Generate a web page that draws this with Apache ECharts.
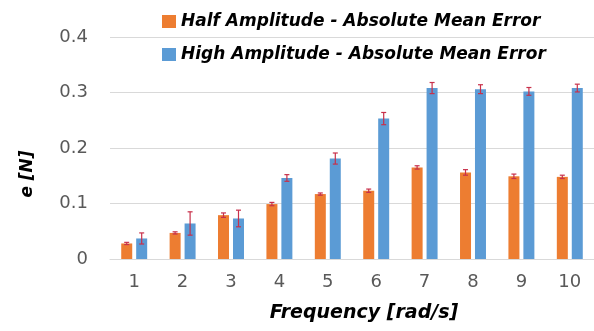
<!DOCTYPE html>
<html>
<head>
<meta charset="utf-8">
<script src="https://cdn.jsdelivr.net/npm/echarts@6/dist/echarts.min.js"></script>
<style>
  html, body { margin: 0; padding: 0; background: #fff; }
  #chart { width: 594px; height: 331px; }
</style>
</head>
<body>
<div id="chart"></div>
<script>
var categories = ["1", "2", "3", "4", "5", "6", "7", "8", "9", "10"]
var halfMean = [0.028, 0.047, 0.079, 0.099, 0.117, 0.123, 0.165, 0.156, 0.149, 0.148]
var halfErr = [0.002, 0.002, 0.004, 0.003, 0.002, 0.003, 0.003, 0.005, 0.004, 0.003]
var highMean = [0.037, 0.064, 0.073, 0.146, 0.181, 0.253, 0.308, 0.306, 0.302, 0.308]
var highErr = [0.010, 0.021, 0.015, 0.006, 0.010, 0.011, 0.010, 0.008, 0.007, 0.007]
var yTicks = [0, 0.1, 0.2, 0.3, 0.4]

// picture text is wide, DejaVu matches its size best
var font = "DejaVu Sans"
var barW = 11
var shift = 7.5 // half of bar + half gap, px

function errData(mean, err) {
	return mean.map(function(v, i) {
		return [i, v - err[i], v + err[i]]
	})
}

function errSeries(name, data, dx) {
	return {
		name: name,
		type: "custom",
		z: 10,
		silent: true,
		renderItem: function(params, api) {
			var lo = api.coord([api.value(0), api.value(1)])
			var hi = api.coord([api.value(0), api.value(2)])
			var x = lo[0] + dx
			var cap = 2.5
			var st = { stroke: "#c8304a", lineWidth: 1.2 }
			return {
				type: "group",
				children: [
					{ type: "line", shape: { x1: x, y1: lo[1], x2: x, y2: hi[1] }, style: st },
					{ type: "line", shape: { x1: x - cap, y1: lo[1], x2: x + cap, y2: lo[1] }, style: st },
					{ type: "line", shape: { x1: x - cap, y1: hi[1], x2: x + cap, y2: hi[1] }, style: st }
				]
			}
		},
		data: data
	}
}

var boldIt = { fontFamily: font, fontWeight: "bold", fontStyle: "italic", color: "#000" }

var chart = echarts.init(document.getElementById("chart"))
chart.setOption({
	animation: false,
	textStyle: { fontFamily: font },
	legend: {
		orient: "vertical",
		left: 157,
		top: 6,
		itemWidth: 14,
		itemHeight: 13,
		itemGap: 12,
		icon: "rect",
		data: ["Half Amplitude - Absolute Mean Error", "High Amplitude - Absolute Mean Error"],
		textStyle: Object.assign({ fontSize: 17, lineHeight: 21 }, boldIt)
	},
	grid: { left: 110, right: 0, top: 37, bottom: 72 },
	xAxis: {
		type: "category",
		data: categories,
		name: "Frequency [rad/s]",
		nameLocation: "middle",
		nameGap: 45,
		nameTextStyle: Object.assign({ fontSize: 19, padding: [0, 0, 0, 24] }, boldIt),
		axisLine: { lineStyle: { color: "#d9d9d9" } },
		axisTick: { show: false },
		axisLabel: { fontSize: 18, color: "#595959", margin: 14 }
	},
	yAxis: {
		type: "value",
		min: yTicks[0],
		max: yTicks[yTicks.length - 1],
		interval: 0.1,
		name: "e [N]",
		nameLocation: "middle",
		nameGap: 74,
		nameTextStyle: Object.assign({ fontSize: 17, padding: [0, 52, 0, 0] }, boldIt),
		axisLine: { show: false },
		axisTick: { show: false },
		splitLine: { lineStyle: { color: "#d9d9d9" } },
		axisLabel: {
			fontSize: 18,
			color: "#595959",
			margin: 22,
			formatter: function(v) { return v === 0 ? "0" : v.toFixed(1) }
		}
	},
	series: [
		{
			name: "Half Amplitude - Absolute Mean Error",
			type: "bar",
			barWidth: barW,
			barGap: "36%",
			itemStyle: { color: "#ed7d31" },
			data: halfMean
		},
		{
			name: "High Amplitude - Absolute Mean Error",
			type: "bar",
			barWidth: barW,
			itemStyle: { color: "#5b9bd5" },
			data: highMean
		},
		errSeries("halfErr", errData(halfMean, halfErr), -shift),
		errSeries("highErr", errData(highMean, highErr), shift)
	]
})
</script>
</body>
</html>
